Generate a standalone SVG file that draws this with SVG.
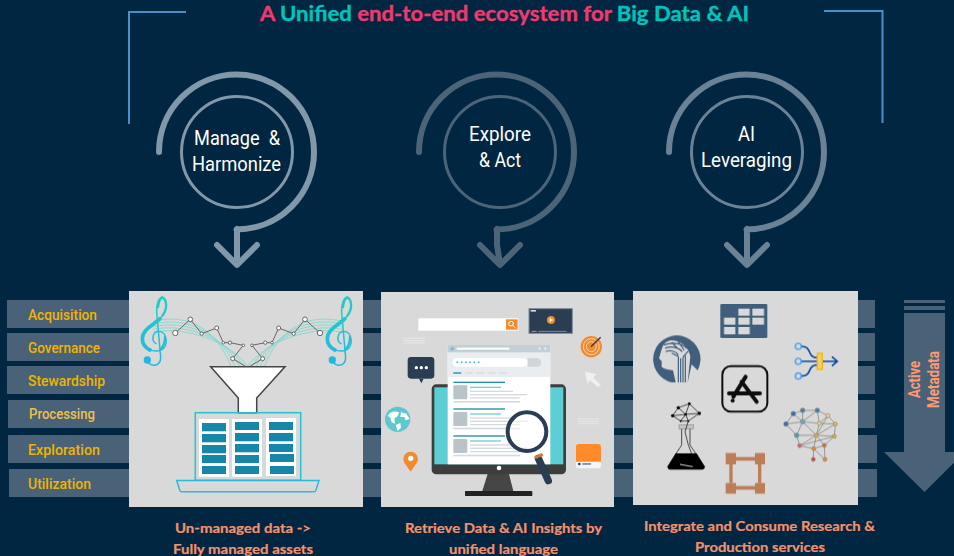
<svg xmlns="http://www.w3.org/2000/svg" xmlns:xlink="http://www.w3.org/1999/xlink" width="954" height="556" viewBox="0 0 954 556">
<style>
text{font-family:"Roboto","Liberation Sans",sans-serif}
.bar{fill:#4a6278}
.panel{fill:#d9d9d9}
.lab{font-size:15.500px;fill:#f0b400;font-weight:500}
.cir{font-size:20px;fill:#fff;text-anchor:middle}
.cap{font-family:"Lato","Liberation Sans",sans-serif;font-weight:700;font-size:14px;fill:#f4916b;stroke:#f4916b;stroke-width:.2}
.rot{font-size:17px;font-weight:700;fill:#ff9a70;text-anchor:middle}
.ttl{font-family:"Lato","Liberation Sans",sans-serif;font-weight:700;font-size:21px}
.pk{fill:#f03a6e;stroke:#f03a6e;stroke-width:.35}.tl{fill:#00c3bc;stroke:#00c3bc;stroke-width:.35}
.sp{fill:none;stroke-width:6;stroke-linecap:round;stroke-linejoin:round}
.in{fill:none;stroke-width:3}
.br{fill:none;stroke:#4a90c8;stroke-width:2}
.staff{fill:none;stroke:#7fd8cd;stroke-width:2.600}
.pl{fill:none;stroke:#666;stroke-width:3}
.nd{fill:#fff;stroke:#666;stroke-width:3}
.row{fill:#1787a8}
.col{fill:#fff}
.gl{fill:#d5dadd}
.hd{fill:#1f8ea3}
.tn{fill:#b9c4c8}
.tq{fill:#6ed0d8}
.cell{fill:#d9d9d9}
.brown{fill:#bd7d56}
.net{stroke:#777;stroke-width:2;fill:none}
.blk{stroke:#000;stroke-width:2;fill:none}
</style>
<defs>
<linearGradient id="cg" gradientUnits="userSpaceOnUse" x1="0" y1="15" x2="0" y2="225"><stop offset="0" stop-color="#1fcfc0"/><stop offset="1" stop-color="#22b6e4"/></linearGradient>
<filter id="soft" x="-5%" y="-5%" width="110%" height="110%"><feGaussianBlur stdDeviation="0.45"/></filter>
<g id="clef" fill="none" stroke="url(#cg)" stroke-linecap="round"><path stroke-width="4.500" d="M52 205C60 226 92 226 92 196L80 60C78 35 88 16 97 16C110 22 114 48 98 70C80 95 37 110 37 140C37 170 70 182 92 175C118 165 112 118 86 118C68 120 62 145 78 155"/><path stroke-width="11" d="M90 80C72 98 37 112 37 140C37 158 48 168 60 174"/><path stroke-width="7" d="M84 45C86 28 92 18 97 16C110 22 114 48 98 70"/><path stroke-width="7" d="M105 135C106 148 100 165 92 172"/><circle cx="52" cy="204" r="11" fill="#22b6e4" stroke="none"/></g>
<g id="st"><path class="staff" d="M70 88C170 62 260 110 302 222"/><path class="staff" d="M70 96C170 72 270 120 315 222"/><path class="staff" d="M70 104C170 82 280 130 328 222"/><path class="staff" d="M70 112C170 92 290 140 340 222"/><path class="staff" d="M70 120C170 102 300 150 352 222"/></g>
<g id="nt"><path class="pl" d="M136 123L181 82L215 125L260 108L280 152L300 152L340 160L308 200L345 222"/><circle class="nd" cx="136" cy="123" r="8"/><circle class="nd" cx="181" cy="82" r="7"/><circle class="nd" cx="215" cy="125" r="5"/><circle class="nd" cx="260" cy="108" r="6"/><circle class="nd" cx="280" cy="152" r="4"/><circle class="nd" cx="300" cy="152" r="5"/><circle class="nd" cx="340" cy="160" r="4"/><circle class="nd" cx="308" cy="200" r="6"/></g>
</defs>
<rect width="954" height="556" fill="#002641"/>
<g id="title"><text class="ttl" x="260" y="21" textLength="489" lengthAdjust="spacingAndGlyphs"><tspan class="pk">A </tspan><tspan class="tl">Unified </tspan><tspan class="pk">end-to-end ecosystem for </tspan><tspan class="tl">Big Data &amp; AI</tspan></text></g>
<g id="connectors">
<path class="br" d="M186 12H129V124"/>
<path class="br" d="M824 11H882.500V123"/>
<path class="sp" stroke="#8198ab" d="M159 152A77.500 77.500 0 1 1 236.500 229.500L237 229V264M217 245L237 265L257 245"/>
<path class="sp" stroke="#4c6478" d="M419 152A77.500 77.500 0 1 1 496.500 229.500L497 229L497 245L500 264M480 245L500 265L520 245"/>
<path class="sp" stroke="#6a8296" d="M669 152A77.500 77.500 0 1 1 746.500 229.500L747 229V264M727 245L747 265L767 245"/>
</g>
<g id="node-manage"><circle class="in" stroke="#8198ab" cx="237" cy="152" r="55.500"/><text class="cir" x="237" y="145" textLength="86" lengthAdjust="spacingAndGlyphs" xml:space="preserve">Manage  &amp;</text><text class="cir" x="236.500" y="171" textLength="89" lengthAdjust="spacingAndGlyphs">Harmonize</text></g>
<g id="node-explore"><circle class="in" stroke="#4c6478" cx="500" cy="152" r="55.500"/><text class="cir" x="500" y="141" textLength="62" lengthAdjust="spacingAndGlyphs">Explore</text><text class="cir" x="500" y="167" textLength="42" lengthAdjust="spacingAndGlyphs">&amp; Act</text></g>
<g id="node-ai"><circle class="in" stroke="#6a8296" cx="747" cy="152" r="55.500"/><text class="cir" x="746.500" y="141" textLength="17" lengthAdjust="spacingAndGlyphs">AI</text><text class="cir" x="746.500" y="167" textLength="91" lengthAdjust="spacingAndGlyphs">Leveraging</text></g>
<g id="stages">
<rect class="bar" x="7" y="300" width="868" height="28"/>
<rect class="bar" x="7" y="333" width="868" height="28"/>
<rect class="bar" x="7" y="366" width="868" height="28"/>
<rect class="bar" x="8" y="400" width="867" height="28"/>
<rect class="bar" x="8" y="435" width="869" height="28"/>
<rect class="bar" x="9" y="469" width="868" height="28"/>
<text class="lab" x="28" y="320" textLength="69" lengthAdjust="spacingAndGlyphs">Acquisition</text>
<text class="lab" x="28" y="353" textLength="72" lengthAdjust="spacingAndGlyphs">Governance</text>
<text class="lab" x="28" y="386" textLength="77" lengthAdjust="spacingAndGlyphs">Stewardship</text>
<text class="lab" x="29" y="419" textLength="66" lengthAdjust="spacingAndGlyphs" style="fill:#eec04e">Processing</text>
<text class="lab" x="28" y="455" textLength="72" lengthAdjust="spacingAndGlyphs">Exploration</text>
<text class="lab" x="28" y="489" textLength="63" lengthAdjust="spacingAndGlyphs">Utilization</text>
</g>
<g id="panel-manage"><rect class="panel" x="129" y="291" width="234" height="216"/>
<g filter="url(#soft)">
<g transform="translate(130 292) scale(.3333)"><use xlink:href="#st"/><use xlink:href="#st" transform="matrix(-1 0 0 1 706 0)"/><use xlink:href="#clef"/><use xlink:href="#clef" x="555"/><use xlink:href="#nt"/><use xlink:href="#nt" transform="matrix(-1 0 0 1 706 0)"/></g>
<path d="M210.700 366.700H285L256.700 398V412.700H238.300V398Z" fill="#fff" stroke="#444" stroke-width="1.500"/>
<rect x="195.300" y="412.700" width="105.400" height="67.600" fill="none" stroke="#28c3cf" stroke-width="1.500"/>
<rect class="col" x="199" y="419" width="30" height="57.700"/><rect class="col" x="232" y="419" width="30" height="57.700"/><rect class="col" x="266" y="418" width="30" height="58"/>
<g class="row"><rect x="202" y="423" width="24" height="8.300"/><rect x="202" y="434" width="24" height="8.300"/><rect x="202" y="445" width="24" height="8.300"/><rect x="202" y="455" width="24" height="8"/><rect x="202" y="466" width="24" height="8"/>
<rect x="235" y="422" width="24" height="8"/><rect x="235" y="433" width="24" height="8.300"/><rect x="235" y="444" width="24" height="8.300"/><rect x="235" y="455" width="24" height="8"/><rect x="235" y="466" width="24" height="8"/>
<rect x="269" y="422" width="24" height="8"/><rect x="269" y="433" width="24" height="8.300"/><rect x="269" y="444" width="24" height="8"/><rect x="270" y="454" width="24" height="8"/><rect x="270" y="466" width="24" height="8"/></g>
<path d="M176.700 480.500H319L316 490A2 2 0 0 1 314 491.700H181.500A2 2 0 0 1 179.700 490Z" fill="none" stroke="#28bcdc" stroke-width="1.500"/>
</g></g>
<g id="panel-explore"><rect class="panel" x="381" y="292" width="233" height="215"/>
<g filter="url(#soft)" transform="translate(375 285) scale(.3333)">
<rect x="130" y="100" width="300" height="37" fill="#fff"/><rect x="393" y="103" width="35" height="31" fill="#f28a2e"/><circle cx="408" cy="116" r="7" fill="none" stroke="#fff" stroke-width="3"/><path d="M413 121L421 129" stroke="#fff" stroke-width="3"/>
<rect x="462" y="71" width="130" height="74" fill="#2a3d52" stroke="#7f8c99" stroke-width="3"/><circle cx="528" cy="105" r="12" fill="#f28a2e"/><path d="M524 99L535 105L524 111Z" fill="#fff"/><path d="M490 139H575" stroke="#7f8c99" stroke-width="3"/><path d="M470 139H485" stroke="#f28a2e" stroke-width="3"/><rect x="467" y="75" width="16" height="5" fill="#cfd8dc"/>
<path d="M85 160H150M85 167H150M85 174H150M608 402H672M608 409H672M608 416H672" stroke="#e6ebee" stroke-width="2.500"/>
<circle cx="649" cy="185" r="32" fill="#f28a2e"/><circle cx="649" cy="185" r="24" fill="none" stroke="#fbd3ad" stroke-width="3"/><circle cx="649" cy="185" r="15" fill="none" stroke="#fbd3ad" stroke-width="3"/><path d="M648 185L677 157" stroke="#2a3d52" stroke-width="4"/>
<path d="M630 260L665 268L655 278L678 300L668 306L645 285L638 296Z" fill="#eef1f3"/>
<rect x="98" y="216" width="80" height="65" rx="10" fill="#2a3d52"/><path d="M132 281H146L139 295Z" fill="#2a3d52"/><circle cx="124" cy="248" r="5" fill="#fff"/><circle cx="139" cy="248" r="5" fill="#fff"/><circle cx="154" cy="248" r="5" fill="#fff"/>
<circle cx="68" cy="403" r="38" fill="#5fc8cf"/><path d="M38 392C48 376 62 378 72 382L68 394L58 400L60 416L50 412L46 398ZM78 382L94 386L104 402L92 406L88 396L76 396ZM62 420L76 414L78 428L68 438Z" fill="#fff"/>
<path d="M107 560C92 538 85 532 85 522A22 22 0 0 1 129 522C129 532 122 538 107 560Z" fill="#f28a2e"/><circle cx="107" cy="520" r="8" fill="#fff"/>
<rect x="603" y="477" width="75" height="73" rx="8" fill="#f5f5f5"/><path d="M603 530V485A8 8 0 0 1 611 477H670A8 8 0 0 1 678 485V530Z" fill="#ff8a2a"/><circle cx="613" cy="537" r="4" fill="#2a3d52"/><path d="M622 537H648" stroke="#2a3d52" stroke-width="3"/>
<path d="M338 567H402L415 618H322Z" fill="#444"/><rect x="270" y="618" width="202" height="15" rx="2" fill="#222"/>
<rect x="170" y="298" width="403" height="270" rx="14" fill="#3c3c3c"/><rect x="178" y="307" width="387" height="231" fill="#5dcfd4"/><circle cx="372" cy="549" r="7" fill="#fff"/>
<rect x="218" y="180" width="308" height="358" fill="#fff"/><rect x="218" y="180" width="308" height="23" fill="#c2cfd6"/><rect x="245" y="188" width="158" height="6" fill="#fff"/><circle cx="232" cy="191" r="6" fill="#8fb8c8"/><circle cx="494" cy="191" r="4" fill="#e2e8eb"/><circle cx="511" cy="191" r="4" fill="#e2e8eb"/>
<rect x="218" y="203" width="308" height="73" fill="#e9edef"/><rect x="233" y="220" width="225" height="25" rx="12" fill="#fff"/><path d="M458 220H486A12.500 12.500 0 0 1 486 245H458Z" fill="#d0d5d8"/>
<g fill="#5cbcc8"><circle cx="247" cy="232" r="3"/><circle cx="260" cy="232" r="3"/><circle cx="273" cy="232" r="3"/><circle cx="285" cy="232" r="3"/><circle cx="298" cy="232" r="3"/><circle cx="311" cy="232" r="3"/></g>
<rect class="hd" x="235" y="262" width="24" height="4"/><g class="gl"><rect x="270" y="262" width="23" height="4"/><rect x="304" y="262" width="23" height="4"/><rect x="338" y="262" width="23" height="4"/><rect x="373" y="262" width="23" height="4"/></g>
<g id="res"><rect class="hd" x="235" y="290" width="155" height="4"/><rect class="tn" x="235" y="301" width="42" height="42" rx="3"/><rect class="tq" x="285" y="305" width="93" height="4"/><g class="gl"><rect x="285" y="317" width="129" height="4"/><rect x="285" y="327" width="172" height="4"/><rect x="285" y="337" width="149" height="4"/><rect x="235" y="348" width="200" height="5"/></g></g>
<use xlink:href="#res" y="80"/><use xlink:href="#res" y="161"/>
<circle cx="456" cy="440" r="58" fill="#fff" fill-opacity=".45" stroke="#2a3d52" stroke-width="12"/>
<path d="M490 520L520 587" stroke="#2a3d52" stroke-width="22" stroke-linecap="round"/><path d="M480 518L503 508" stroke="#d9742a" stroke-width="9"/>
</g></g>
<g id="panel-ai"><rect class="panel" x="633" y="291" width="225" height="214"/>
<g filter="url(#soft)" transform="translate(630 285) scale(.3333)">
<rect x="271" y="57" width="141" height="102" rx="4" fill="#3f5f7d"/><g class="cell"><rect x="325" y="71" width="34" height="21"/><rect x="367" y="71" width="35" height="21"/><rect x="282" y="98" width="34" height="21"/><rect x="325" y="98" width="34" height="21"/><rect x="367" y="98" width="35" height="21"/><rect x="282" y="126" width="34" height="22"/><rect x="325" y="126" width="34" height="22"/></g>
<g transform="translate(45 120)"><path d="M82 172A71 71 0 1 1 158 136L140 118L128 172Z" fill="#3f5f7d"/><path d="M54 62C48 76 46 88 42 100L50 108L50 126C58 132 72 134 84 136L92 172H128L136 95C132 62 100 44 76 46C66 48 58 54 54 62Z" fill="#d9d9d9"/><path d="M50 132C58 142 70 148 82 172L70 168C56 160 48 146 50 132Z" fill="#3f5f7d"/><path d="M56 60C76 52 110 52 126 70M60 70C76 62 100 66 112 80M62 80C76 74 92 78 100 90M80 52L100 72M100 50L118 76M100 94V172M107 100V172M114 96V172M121 92V172M100 94L80 84M114 96L130 78" fill="none" stroke="#3f5f7d" stroke-width="3.500"/></g>
<rect x="277" y="243" width="135" height="137" rx="26" fill="none" stroke="#111" stroke-width="6"/>
<path d="M347 275L310 335M297 325H390M335 290L380 350" fill="none" stroke="#111" stroke-width="12" stroke-linecap="round"/><circle cx="308" cy="347" r="6" fill="#111"/>
<g fill="none" stroke="#5aa9f0" stroke-width="5"><circle cx="505" cy="184" r="9"/><circle cx="505" cy="229" r="9"/><circle cx="505" cy="273" r="9"/></g>
<path d="M515 184C548 184 530 218 562 218M515 229H620M515 273C548 273 530 240 562 240M606 215L622 229L606 243" fill="none" stroke="#0b4a9e" stroke-width="5"/>
<rect x="562" y="205" width="15" height="48" fill="#f5d060" stroke="#f5b31a" stroke-width="4"/>
<rect x="147" y="420" width="43" height="12" fill="#c4c4c4" stroke="#888" stroke-width="2"/>
<path d="M155 432V480L113 545H224L180 480V432" class="blk"/><path d="M137 505H200L224 545Q225 554 215 554H122Q112 554 113 545Z" fill="#000"/>
<path d="M150 538L188 545" stroke="#fff" stroke-width="2.500"/>
<path d="M145 368L178 356L208 385L175 408L152 408L128 392ZM145 368L167 388L178 356M167 388L208 385M167 388L152 408M167 388L175 408M128 392L167 388M175 408L165 440L175 480L190 520" class="blk"/>
<g fill="#000"><circle cx="145" cy="368" r="5"/><circle cx="178" cy="356" r="4"/><circle cx="208" cy="385" r="5"/><circle cx="128" cy="392" r="5"/><circle cx="152" cy="408" r="3"/><circle cx="175" cy="408" r="3"/><circle cx="167" cy="388" r="4"/></g>
<g class="brown"><rect x="287" y="504" width="31" height="34"/><rect x="375" y="504" width="30" height="34"/><rect x="287" y="594" width="31" height="32"/><rect x="375" y="594" width="30" height="32"/><rect x="318" y="516" width="57" height="11"/><rect x="318" y="603" width="57" height="11"/><rect x="298" y="538" width="10" height="56"/><rect x="384" y="538" width="10" height="56"/></g>
<path class="net" d="M490 386L518 376L562 376L594 392L616 417L613 454L559 451L500 451L468 417L490 386M518 376L518 410L500 451M562 376L518 410L468 417M562 376L568 415L559 451M490 386L518 410L559 451M594 392L568 415L518 410M594 392L559 451M616 417L568 415M616 417L559 451M509 482L500 451M509 482L559 451M509 482L613 454M509 482L551 491L583 481L613 454M551 491L550 523M551 491L559 451M583 481L559 451M551 491L585 523M583 481L585 523"/>
<g stroke="#888" stroke-width="2"><circle cx="490" cy="386" r="7" fill="#3a6ea5"/><circle cx="518" cy="376" r="7" fill="#4a7fa8"/><circle cx="562" cy="376" r="7" fill="#3d80a8"/><circle cx="594" cy="392" r="6" fill="#f2d36b"/><circle cx="616" cy="417" r="6" fill="#e8b64b"/><circle cx="613" cy="454" r="6" fill="#e3b020"/><circle cx="559" cy="451" r="6" fill="#e3b020"/><circle cx="568" cy="415" r="6" fill="#f2d36b"/><circle cx="518" cy="410" r="7" fill="#6aa8c8"/><circle cx="468" cy="417" r="7" fill="#3a6ea5"/><circle cx="500" cy="451" r="7" fill="#4aa0b5"/><circle cx="509" cy="482" r="6" fill="#e26060"/><circle cx="551" cy="491" r="6" fill="#e58a2a"/><circle cx="583" cy="481" r="6" fill="#d96f10"/><circle cx="550" cy="523" r="6" fill="#d94040"/><circle cx="585" cy="523" r="6" fill="#e58a2a"/></g>
</g></g>
<g id="active-metadata">
<path d="M904 300H945V303H904ZM904 306H945V310H904ZM904 313H945V452H965L924.500 492L884 452H904Z" fill="#4a6278"/>
<text class="rot" transform="translate(920 379.500) rotate(-90)" textLength="37" lengthAdjust="spacingAndGlyphs">Active</text>
<text class="rot" transform="translate(939 379.500) rotate(-90)" textLength="57" lengthAdjust="spacingAndGlyphs">Metadata</text>
</g>
<g id="captions">
<text class="cap" x="175" y="533" textLength="136" lengthAdjust="spacingAndGlyphs">Un-managed data -&gt;</text>
<text class="cap" x="173" y="554" textLength="140" lengthAdjust="spacingAndGlyphs">Fully managed assets</text>
<text class="cap" x="405" y="533" textLength="197" lengthAdjust="spacingAndGlyphs">Retrieve Data &amp; AI Insights by</text>
<text class="cap" x="449" y="554" textLength="109" lengthAdjust="spacingAndGlyphs">unified language</text>
<text class="cap" x="644" y="531" textLength="231" lengthAdjust="spacingAndGlyphs">Integrate and Consume Research &amp;</text>
<text class="cap" x="695" y="552" textLength="130" lengthAdjust="spacingAndGlyphs">Production services</text>
</g>
</svg>
